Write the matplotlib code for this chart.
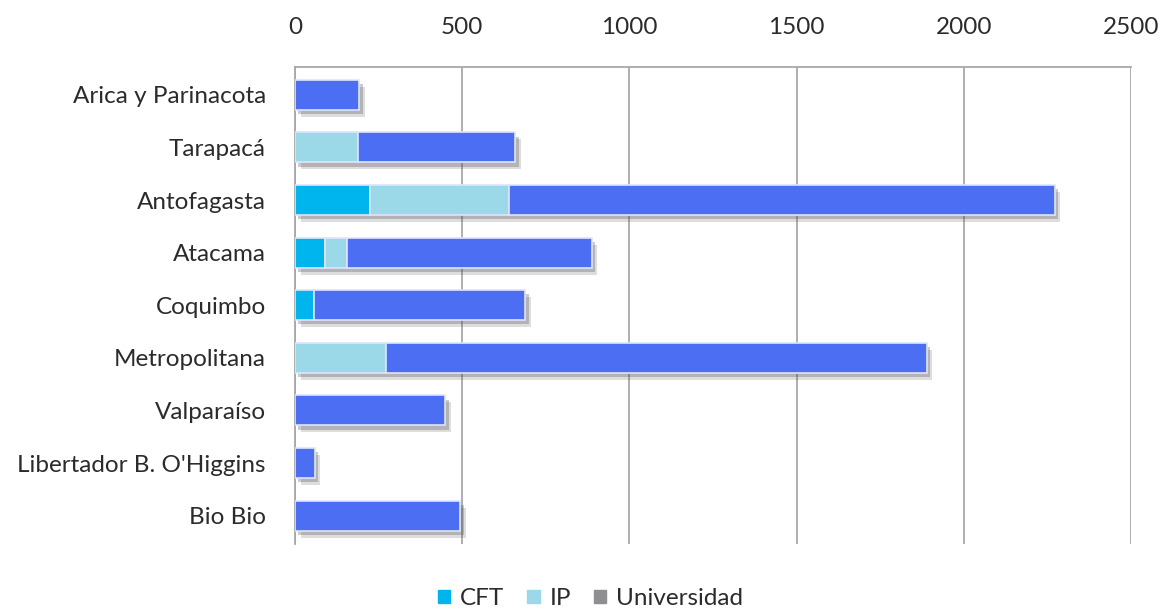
import matplotlib.pyplot as plt
import matplotlib.patheffects as pe
from matplotlib.patches import Patch
import numpy as np

regiones = ["Arica y Parinacota", "Tarapacá", "Antofagasta", "Atacama", "Coquimbo",
            "Metropolitana", "Valparaíso", "Libertador B. O'Higgins", "Bio Bio"]
cft = [0, 0, 223, 90, 56, 0, 0, 0, 0]
ip = [0, 188, 416, 64, 0, 271, 0, 0, 0]
universidad = [192, 471, 1633, 734, 632, 1619, 449, 59, 494]
x_ticks = [0, 500, 1000, 1500, 2000, 2500]

plt.rcParams["font.family"] = ["Lato", "DejaVu Sans"]
FS = 17.5

fig = plt.figure(figsize=(11.67, 6.09), dpi=100)
ax = fig.add_axes([0.2528, 0.1067, 0.7162, 0.7833])

y = np.arange(len(regiones))
shadow = [pe.SimplePatchShadow(offset=(4, -5), shadow_rgbFace="#555555", alpha=0.2),
          pe.SimplePatchShadow(offset=(2.5, -3), shadow_rgbFace="#555555", alpha=0.3),
          pe.Normal()]
bar_kw = dict(height=0.57, edgecolor="#dfe4ff", linewidth=1.2, zorder=3)

left = np.zeros(len(regiones))
for vals, color in [(cft, "#00b5ee"), (ip, "#9bd9e9"), (universidad, "#4c6ef2")]:
    vals = np.array(vals)
    bars = ax.barh(y, vals, left=left, color=color, **bar_kw)
    for b, v in zip(bars, vals):
        if v > 0:
            b.set_path_effects(shadow)
        else:
            b.set_visible(False)
    left += vals

ax.set_xlim(0, 2500)
ax.set_ylim(8.54, -0.53)
ax.set_xticks(x_ticks)
ax.set_yticks(y)
ax.set_yticklabels(regiones)
ax.xaxis.tick_top()
ax.tick_params(axis="x", length=0, pad=21, labelsize=FS, labelcolor="#2b2b2b")
ax.tick_params(axis="y", length=0, pad=21, labelsize=FS, labelcolor="#2b2b2b")
ax.grid(axis="x", color="#a8a8a8", linewidth=1.3, zorder=0)
ax.set_axisbelow(True)
for side in ["right", "bottom"]:
    ax.spines[side].set_visible(False)
for side in ["top", "left"]:
    ax.spines[side].set_color("#a8a8a8")
    ax.spines[side].set_linewidth(1.3)

handles = [Patch(color="#00b5ee", label="CFT"),
           Patch(color="#9bd9e9", label="IP"),
           Patch(color="#8e8e93", label="Universidad")]
fig.legend(handles=handles, loc="center", bbox_to_anchor=(0.506, 0.017), ncol=3,
           frameon=False, fontsize=FS, handlelength=0.5, handleheight=0.5,
           handletextpad=0.4, columnspacing=0.95, labelcolor="#2b2b2b")

fig.savefig("out.png", dpi=100)
